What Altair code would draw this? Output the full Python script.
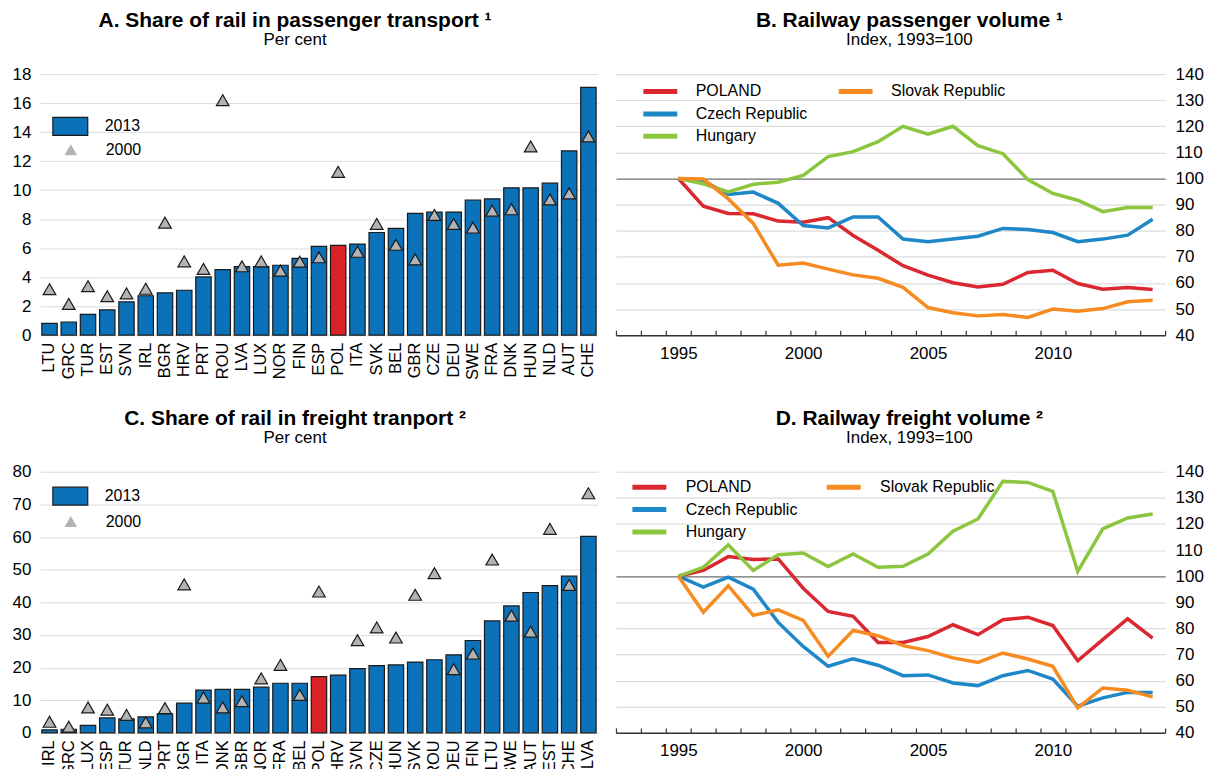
import altair as alt
import pandas as pd

FONT = "Liberation Sans"
BLUE_BAR = "#0B72BA"
RED_BAR = "#DA2128"
TRI = "#B3B3B3"
EDGE = "#1A1A1A"
C_PL = "#DA2730"
C_CZ = "#1E87C8"
C_HU = "#8CC63F"
C_SK = "#F68B21"
RECT = "M-1,-0.514L1,-0.514L1,0.514L-1,0.514Z"
LINE_SYM = "M-1.889,0L1.889,0"

# ---------------- Panel A data ----------------
a_countries = ["LTU", "GRC", "TUR", "EST", "SVN", "IRL", "BGR", "HRV", "PRT", "ROU",
               "LVA", "LUX", "NOR", "FIN", "ESP", "POL", "ITA", "SVK", "BEL", "GBR",
               "CZE", "DEU", "SWE", "FRA", "DNK", "HUN", "NLD", "AUT", "CHE"]
a_2013 = [0.82, 0.91, 1.44, 1.74, 2.3, 2.72, 2.92, 3.1, 4.02, 4.52,
          4.73, 4.73, 4.82, 5.3, 6.12, 6.19, 6.28, 7.08, 7.37, 8.4,
          8.49, 8.49, 9.32, 9.4, 10.16, 10.16, 10.48, 12.7, 17.08]
a_2000 = [3.17, 2.15, 3.38, 2.69, 2.88, 3.2, 7.76, 5.09, 4.57, 16.2,
          4.75, 5.09, 4.45, 5.07, 5.37, 11.26, 5.75, 7.67, 6.23, 5.23,
          8.29, 7.67, 7.42, 8.58, 8.68, 13.01, 9.36, 9.77, 13.7]

# ---------------- Panel C data ----------------
c_countries = ["IRL", "GRC", "LUX", "ESP", "TUR", "NLD", "PRT", "BGR", "ITA", "DNK",
               "GBR", "NOR", "FRA", "BEL", "POL", "HRV", "SVN", "CZE", "HUN", "SVK",
               "ROU", "DEU", "FIN", "LTU", "SWE", "AUT", "EST", "CHE", "LVA"]
c_2013 = [0.9, 1.1, 2.3, 4.6, 4.3, 4.9, 5.8, 9.1, 13.1, 13.3,
          13.3, 14.0, 15.2, 15.2, 17.2, 17.7, 19.7, 20.6, 20.8, 21.7,
          22.4, 23.9, 28.3, 34.3, 38.9, 43.0, 45.1, 48.0, 60.2]
c_2000 = [3.4, 1.9, 7.8, 7.1, 5.5, 3.2, 7.6, 45.5, 10.8, 7.8,
          9.7, 16.7, 20.8, 11.6, 43.3, None, 28.4, 32.3, 29.2, 42.3,
          48.9, 19.5, 24.3, 53.1, 35.9, 31.0, 62.5, 45.3, 73.4]

# ---------------- Panels B and D data ----------------
years = list(range(1995, 2015))
series_names = ["POLAND", "Czech Republic", "Hungary", "Slovak Republic"]

b_pl = [100, 89.4, 86.6, 86.5, 83.7, 83.3, 85.0, 78.2, 72.5, 66.6,
        63.0, 60.1, 58.5, 59.5, 64.0, 64.9, 59.8, 57.6, 58.3, 57.5]
b_cz = [100, 99.2, 93.9, 94.8, 90.5, 82.0, 81.1, 85.3, 85.3, 76.8,
        75.8, 76.8, 77.9, 80.9, 80.5, 79.3, 75.8, 76.8, 78.3, 84.4]
b_hu = [100, 98.0, 94.9, 97.8, 98.6, 101.2, 108.4, 110.3, 114.1, 120.0,
        117.0, 120.0, 112.6, 109.5, 99.6, 94.3, 91.7, 87.3, 88.9, 88.9]
b_sk = [100, 99.8, 92.2, 82.8, 66.8, 67.6, 65.3, 63.1, 61.8, 58.3,
        50.6, 48.6, 47.4, 47.9, 46.8, 50.0, 49.2, 50.2, 52.8, 53.4]

d_pl = [100, 102.2, 107.5, 106.4, 106.6, 95.4, 86.5, 84.6, 74.6, 74.6,
        76.9, 81.4, 77.6, 83.3, 84.3, 81.1, 67.6, 75.7, 83.7, 76.3]
d_cz = [100, 95.8, 99.6, 95.0, 82.3, 73.1, 65.5, 68.4, 65.9, 61.9,
        62.2, 59.1, 58.1, 61.9, 63.9, 60.6, 50.2, 53.4, 55.5, 55.5]
d_hu = [100, 103.4, 112.0, 102.2, 108.2, 108.9, 103.7, 108.5, 103.4, 103.8,
        108.5, 117.2, 121.9, 136.3, 135.9, 132.5, 101.8, 118.1, 122.3, 123.8]
d_sk = [100, 86.2, 96.3, 85.0, 87.1, 83.1, 69.3, 79.2, 77.2, 73.4,
        71.5, 68.7, 67.0, 70.6, 68.3, 65.5, 49.6, 57.2, 56.3, 53.8]

half_years = [y + 0.5 for y in range(1992, 2015)]

W_BAR = 560
W_LINE = 551
H = 262

INDEP = dict(color="independent", stroke="independent", fill="independent",
             shape="independent")


def title_params(text, sub, dx):
    return alt.TitleParams(text=text, subtitle=sub, fontSize=21, fontWeight="bold",
                           subtitleFontSize=17, color="black", subtitleColor="black",
                           anchor="middle", frame="bounds", dx=dx, offset=17,
                           subtitlePadding=1, font=FONT, subtitleFont=FONT)


def bar_panel(countries, v13, v00, ymax, ystep, title, leg13, leg00):
    df = pd.DataFrame({"country": countries, "v2013": v13, "v2000": v00})
    base = alt.Chart(df)
    x = alt.X("country:N", sort=countries,
              scale=alt.Scale(paddingInner=0.2, paddingOuter=0.1),
              axis=alt.Axis(title=None, labelAngle=-90, labelFontSize=16.5, labelColor="black",
                            labelPadding=7, ticks=False, domain=False, grid=False))
    yax = alt.Axis(title=None, values=list(range(0, ymax + 1, ystep)), grid=True,
                   gridColor="#DCDCDC", gridWidth=1, domain=False, ticks=False,
                   labelFontSize=17, labelPadding=9, labelColor="black")
    ysc = alt.Scale(domain=[0, ymax], nice=False)
    bars = base.transform_filter(alt.datum.country != "POL").transform_calculate(
        s13="'2013'").mark_bar(stroke=EDGE, strokeWidth=1.2).encode(
        x=x,
        y=alt.Y("v2013:Q", scale=ysc, axis=yax),
        fill=alt.Fill("s13:N", scale=alt.Scale(domain=["2013"], range=[BLUE_BAR]),
                      legend=alt.Legend(title=None, orient="none", legendX=leg13[0],
                                        legendY=leg13[1], symbolType=RECT, symbolSize=1225,
                                        symbolStrokeColor=EDGE, symbolStrokeWidth=1.2,
                                        labelFontSize=16, labelOffset=16, padding=0,
                                        labelColor="black")),
    )
    pol = base.transform_filter(alt.datum.country == "POL").mark_bar(
        fill=RED_BAR, stroke=EDGE, strokeWidth=1.2).encode(
        x=x, y=alt.Y("v2013:Q", scale=ysc, axis=yax))
    tri = base.transform_filter("isValid(datum.v2000)").transform_calculate(
        s00="'2000'").mark_point(filled=True, fill=TRI, stroke=EDGE, strokeWidth=1.2,
                                 size=160, opacity=1).encode(
        x=x,
        y=alt.Y("v2000:Q", scale=ysc, axis=yax),
        shape=alt.Shape("s00:N", scale=alt.Scale(domain=["2000"], range=["triangle-up"]),
                        legend=alt.Legend(title=None, orient="none", legendX=leg00[0],
                                          legendY=leg00[1], symbolSize=160,
                                          symbolFillColor=TRI, symbolStrokeColor=EDGE,
                                          symbolStrokeWidth=1.2, labelFontSize=16,
                                          labelOffset=27, padding=0, labelColor="black")),
    )
    return alt.layer(bars, pol, tri).properties(
        width=W_BAR, height=H, title=title_params(title, "Per cent", -10))


def line_legend(pos, off):
    return alt.Legend(title=None, orient="none", legendX=pos[0], legendY=pos[1],
                      symbolType=LINE_SYM, symbolSize=324, symbolStrokeWidth=5,
                      labelFontSize=16, labelOffset=off, padding=0, rowPadding=0.5,
                      labelColor="black")


def line_panel(pl, cz, hu, sk, title, legA, offA, legB, offB):
    df = pd.DataFrame({
        "year": years * 4,
        "value": pl + cz + hu + sk,
        "series": [s for s in series_names for _ in years],
    })
    xsc = alt.Scale(domain=[1992.5, 2014.5], nice=False, zero=False)
    ysc = alt.Scale(domain=[40, 140], nice=False, zero=False)
    yax = alt.Axis(orient="right", title=None, values=list(range(40, 141, 10)), grid=True,
                   gridColor={"condition": {"test": "datum.value === 100", "value": "#6E6E6E"},
                              "value": "#DCDCDC"},
                   gridWidth=1.2, domain=False, ticks=False, labelFontSize=17,
                   labelPadding=10, labelColor="black")
    main = alt.Chart(df).transform_filter(alt.datum.series != "Slovak Republic").mark_line(
        strokeWidth=3.5).encode(
        x=alt.X("year:Q", scale=xsc,
                axis=alt.Axis(orient="bottom", title=None, values=[1995, 2000, 2005, 2010],
                              format="d", ticks=False, grid=False, domainColor="#333333",
                              domainWidth=1.5, labelFontSize=17, labelPadding=10,
                              labelColor="black")),
        y=alt.Y("value:Q", scale=ysc, axis=yax),
        color=alt.Color("series:N",
                        scale=alt.Scale(domain=["POLAND", "Czech Republic", "Hungary"],
                                        range=[C_PL, C_CZ, C_HU]),
                        legend=line_legend(legA, offA)),
    )
    skl = alt.Chart(df).transform_filter(alt.datum.series == "Slovak Republic").mark_line(
        strokeWidth=3.5).encode(
        x=alt.X("year:Q", scale=xsc,
                axis=alt.Axis(orient="top", offset=-H, title=None, values=half_years,
                              labels=False, domain=False, ticks=True, tickSize=5,
                              tickWidth=1.2, tickColor="#333333", grid=False)),
        y=alt.Y("value:Q", scale=ysc, axis=yax),
        stroke=alt.Stroke("series:N",
                          scale=alt.Scale(domain=["Slovak Republic"], range=[C_SK]),
                          legend=line_legend(legB, offB)),
    )
    return alt.layer(main, skl).resolve_axis(x="independent").properties(
        width=W_LINE, height=H, title=title_params(title, "Index, 1993=100", 0))


pA = bar_panel(a_countries, a_2013, a_2000, 18, 2,
               "A. Share of rail in passenger transport \u00b9", (12, 34), (23, 68))
pC = bar_panel(c_countries, c_2013, c_2000, 80, 10,
               "C. Share of rail in freight tranport \u00b2", (12, 6), (23, 42))
pB = line_panel(b_pl, b_cz, b_hu, b_sk, "B. Railway passenger volume \u00b9",
                (33, 6), 24, (229, 6), 24)
pD = line_panel(d_pl, d_cz, d_hu, d_sk, "D. Railway freight volume \u00b2",
                (22, 4), 25, (217, 4), 25)

row1 = alt.hconcat(pA, pB, spacing=17).resolve_scale(**INDEP)
row2 = alt.hconcat(pC, pD, spacing=17).resolve_scale(**INDEP)

chart = alt.vconcat(row1, row2, spacing=28).resolve_scale(**INDEP).properties(
    padding={"left": 4, "top": 1, "right": 0, "bottom": 0}
).configure(font=FONT).configure_view(stroke=None).configure_axis(
    labelFont=FONT).configure_legend(labelFont=FONT)

chart.save("out.html", embed_options={"renderer": "svg", "actions": False})
